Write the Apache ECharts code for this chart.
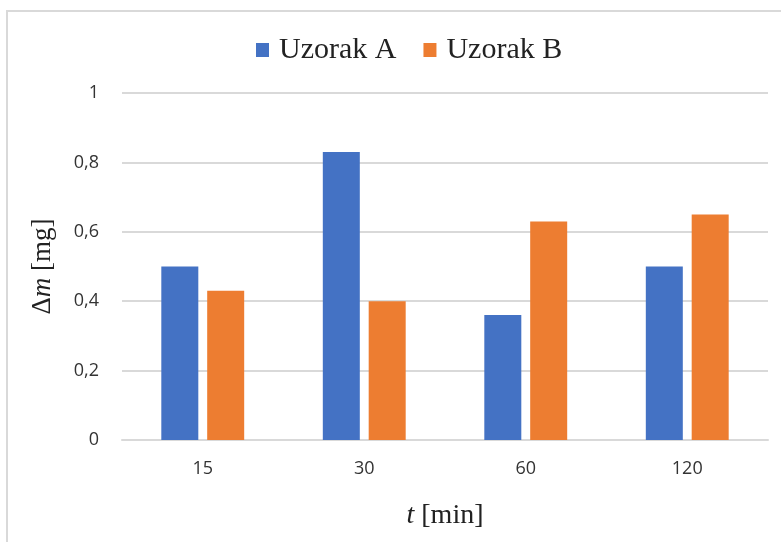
<!DOCTYPE html>
<html>
<head>
<meta charset="utf-8">
<script src="https://cdn.jsdelivr.net/npm/echarts@6/dist/echarts.min.js"></script>
<style>
  html, body { margin: 0; padding: 0; background: #fff; }
  #main { width: 781px; height: 542px; }
</style>
</head>
<body>
<div id="main"></div>
<script>
const categories = ['15', '30', '60', '120'];
const uzorakA = [0.5, 0.83, 0.36, 0.5];
const uzorakB = [0.43, 0.40, 0.63, 0.65];
const yTicks = { min: 0, max: 1, interval: 0.2 };

const myChart = echarts.init(document.getElementById('main'));

const serif = '"Liberation Serif", "DejaVu Serif", serif';
const sans = '"Open Sans", "Liberation Sans", sans-serif';

myChart.setOption({
  animation: false,
  graphic: [
    {
      type: 'rect',
      shape: { x: 7, y: 11, width: 800, height: 560 },
      style: { fill: 'none', stroke: '#d9d9d9', lineWidth: 2 }
    }
  ],
  legend: {
    top: 30,
    left: 251,
    itemWidth: 13,
    itemHeight: 14,
    itemGap: 27,
    icon: 'rect',
    textStyle: { fontFamily: serif, fontSize: 30, color: '#222', padding: [0, 0, 0, 5] }
  },
  grid: {
    left: 122,
    right: 13,
    top: 93,
    bottom: 102
  },
  xAxis: {
    type: 'category',
    data: categories,
    axisTick: { show: false },
    axisLine: { lineStyle: { color: '#d9d9d9', width: 2 } },
    axisLabel: { fontFamily: sans, fontSize: 18, color: '#333', margin: 20 },
    name: '{i|t} [min]',
    nameLocation: 'middle',
    nameGap: 62,
    nameTextStyle: {
      fontFamily: serif, fontSize: 28, color: '#222',
      rich: { i: { fontFamily: serif, fontSize: 28, fontStyle: 'italic', color: '#222' } }
    }
  },
  yAxis: {
    type: 'value',
    min: yTicks.min,
    max: yTicks.max,
    interval: yTicks.interval,
    axisLine: { show: false },
    axisTick: { show: false },
    splitLine: { lineStyle: { color: '#d9d9d9', width: 2 } },
    axisLabel: {
      fontFamily: sans, fontSize: 18, color: '#333', margin: 23,
      formatter: (v) => String(Math.round(v * 10) / 10).replace('.', ',')
    },
    name: '{n|Δ}{i|m}{n| [mg]}',
    nameLocation: 'middle',
    nameRotate: 90,
    nameGap: 66,
    nameTextStyle: {
      fontFamily: serif, fontSize: 27, color: '#222',
      rich: {
        n: { fontFamily: serif, fontSize: 27, color: '#222' },
        i: { fontFamily: serif, fontSize: 27, fontStyle: 'italic', color: '#222' }
      }
    }
  },
  series: [
    {
      name: 'Uzorak A',
      type: 'bar',
      data: uzorakA,
      barWidth: 37,
      barGap: '24%',
      itemStyle: { color: '#4472C4' }
    },
    {
      name: 'Uzorak B',
      type: 'bar',
      data: uzorakB,
      barWidth: 37,
      barGap: '24%',
      itemStyle: { color: '#ED7D31' }
    }
  ]
});

window.onresize = function () {
  myChart.resize();
};
</script>
</body>
</html>
